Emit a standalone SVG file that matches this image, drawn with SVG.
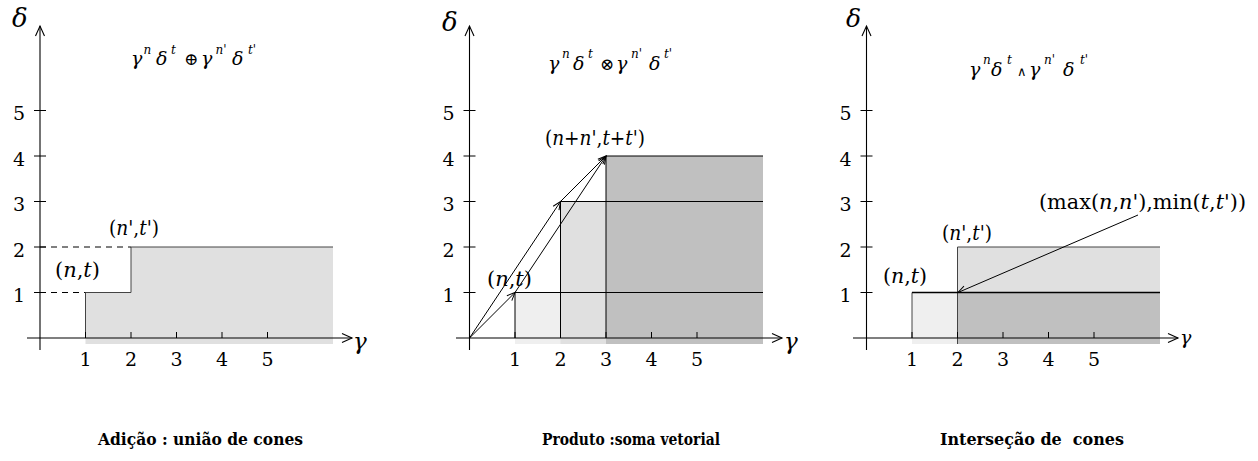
<svg xmlns="http://www.w3.org/2000/svg" width="1258" height="461" viewBox="0 0 1258 461" font-family="'DejaVu Serif', 'Liberation Serif', serif">
<style>
.ax{stroke:#000;stroke-width:1.1;fill:none}
.tk{stroke:#000;stroke-width:1;fill:none}
.ln{stroke:#000;stroke-width:1;fill:none}
.gl{stroke:#444;stroke-width:1;fill:none}
.dash{stroke:#000;stroke-width:1;stroke-dasharray:6,5;fill:none}
.num{font-size:19px;fill:#000;text-anchor:middle}
.lab{font-size:20px;fill:#000}
.it{font-style:italic}
.axl{font-style:italic;fill:#000}
.fm{font-style:italic;font-size:19px;fill:#000}
.sp{font-size:12px}
.op{font-style:normal}
.cap{font-weight:bold;font-size:16px;fill:#000;white-space:pre}
.f1{fill:#efefef}
.f2{fill:#e0e0e0}
.f3{fill:#c0c0c0}
</style>
<defs>
<marker id="ax" viewBox="-12 -6 14 12" refX="0" refY="0" markerWidth="14" markerHeight="12" orient="auto" markerUnits="userSpaceOnUse" style="overflow:visible">
<path d="M-10,-4.5 L0,0 L-10,4.5" fill="none" stroke="#000" stroke-width="1.1"/>
</marker>
<marker id="ar" viewBox="-10 -5 12 10" refX="0" refY="0" markerWidth="12" markerHeight="10" orient="auto" markerUnits="userSpaceOnUse" style="overflow:visible">
<path d="M-8,-3.5 L0,0 L-8,3.5" fill="none" stroke="#000" stroke-width="1"/>
</marker>
</defs>

<!-- Panel 1 -->
<g id="panel1">
<path class="f2" d="M85.5,344 V292.5 H131 V247 H333 V344 Z"/>
<path class="gl" d="M85.5,338 V292.5 H131 V247 H333"/>
<path class="dash" d="M40,292.5 H85.5 M40,247 H131"/>
<line class="ax" x1="40" y1="350" x2="40" y2="26" marker-end="url(#ax)"/>
<line class="ax" x1="27" y1="338" x2="352" y2="338" marker-end="url(#ax)"/>
<path class="tk" d="M34,292.5H46 M34,247H46 M34,201.5H46 M34,156H46 M34,110.5H46 M85.5,332V338 M131,332V338 M176.5,332V338 M222,332V338 M267.5,332V338"/>
<text class="num" x="19" y="302">1</text>
<text class="num" x="19" y="256.5">2</text>
<text class="num" x="19" y="211">3</text>
<text class="num" x="19" y="165.5">4</text>
<text class="num" x="19" y="120">5</text>
<text class="num" x="85.5" y="366">1</text>
<text class="num" x="131" y="366">2</text>
<text class="num" x="176.5" y="366">3</text>
<text class="num" x="222" y="366">4</text>
<text class="num" x="267.5" y="366">5</text>
<text class="axl" x="12" y="27" font-size="26">δ</text>
<text class="axl" x="353" y="349" font-size="23">γ</text>
<text class="fm"><tspan x="131" y="65">γ</tspan><tspan class="sp" x="143.5" y="54">n</tspan><tspan x="156" y="65">δ</tspan><tspan class="sp" x="171" y="54">t</tspan><tspan class="op" x="184" y="65" font-size="17">⊕</tspan><tspan x="201" y="65">γ</tspan><tspan class="sp" x="215.5" y="54">n'</tspan><tspan x="232" y="65">δ</tspan><tspan class="sp" x="248" y="54">t'</tspan></text>
<text class="lab" x="55" y="277" textLength="45" lengthAdjust="spacingAndGlyphs">(<tspan class="it">n</tspan>,<tspan class="it">t</tspan>)</text>
<text class="lab" x="109" y="235" textLength="50" lengthAdjust="spacingAndGlyphs">(<tspan class="it">n</tspan>',<tspan class="it">t</tspan>')</text>
<text class="cap" x="98" y="445" textLength="205" lengthAdjust="spacingAndGlyphs">Adição : união de cones</text>
</g>

<!-- Panel 2 -->
<g id="panel2">
<rect class="f1" x="515" y="292.5" width="248" height="51.5"/>
<rect class="f2" x="560.5" y="201.5" width="202.5" height="142.5"/>
<rect class="f3" x="606" y="156" width="157" height="188"/>
<path class="ln" d="M515,338 V292.5 H763 M560.5,338 V201.5 H763 M606,338 V156 H763"/>
<line class="ax" x1="469.5" y1="350" x2="469.5" y2="26" marker-end="url(#ax)"/>
<line class="ax" x1="456" y1="338" x2="782" y2="338" marker-end="url(#ax)"/>
<path class="tk" d="M463.5,292.5H475.5 M463.5,247H475.5 M463.5,201.5H475.5 M463.5,156H475.5 M463.5,110.5H475.5 M515,332V338 M560.5,332V338 M606,332V338 M651.5,332V338 M697,332V338"/>
<text class="num" x="448.5" y="302">1</text>
<text class="num" x="448.5" y="256.5">2</text>
<text class="num" x="448.5" y="211">3</text>
<text class="num" x="448.5" y="165.5">4</text>
<text class="num" x="448.5" y="120">5</text>
<text class="num" x="515" y="366">1</text>
<text class="num" x="560.5" y="366">2</text>
<text class="num" x="606" y="366">3</text>
<text class="num" x="651.5" y="366">4</text>
<text class="num" x="697" y="366">5</text>
<text class="axl" x="442" y="31" font-size="26">δ</text>
<text class="axl" x="784" y="349" font-size="23">γ</text>
<text class="fm"><tspan x="548" y="70">γ</tspan><tspan class="sp" x="562" y="58">n</tspan><tspan x="573" y="70">δ</tspan><tspan class="sp" x="588" y="58">t</tspan><tspan class="op" x="600" y="70" font-size="17">⊗</tspan><tspan x="616" y="70">γ</tspan><tspan class="sp" x="631" y="58">n'</tspan><tspan x="649" y="70">δ</tspan><tspan class="sp" x="664" y="58">t'</tspan></text>
<text class="lab" x="487" y="286" textLength="45" lengthAdjust="spacingAndGlyphs">(<tspan class="it">n</tspan>,<tspan class="it">t</tspan>)</text>
<text class="lab" x="545" y="145" textLength="100" lengthAdjust="spacingAndGlyphs">(<tspan class="it">n</tspan>+<tspan class="it">n</tspan>',<tspan class="it">t</tspan>+<tspan class="it">t</tspan>')</text>
<text class="cap" x="542" y="445" textLength="178" lengthAdjust="spacingAndGlyphs">Produto :soma vetorial</text>
</g>

<!-- Panel 3 -->
<g id="panel3">
<rect class="f1" x="912" y="292.5" width="45.5" height="51.5"/>
<rect class="f2" x="957.5" y="247" width="202.5" height="45.5"/>
<rect class="f3" x="957.5" y="292.5" width="202.5" height="51.5"/>
<path class="gl" d="M912,338 V292.5 M957.5,344 V247 H1160"/>
<path d="M912,292.5 H1160" stroke="#000" stroke-width="1.5" fill="none"/>
<line class="ax" x1="866.5" y1="350" x2="866.5" y2="26" marker-end="url(#ax)"/>
<line class="ax" x1="853" y1="338" x2="1178" y2="338" marker-end="url(#ax)"/>
<path class="tk" d="M860.5,292.5H872.5 M860.5,247H872.5 M860.5,201.5H872.5 M860.5,156H872.5 M860.5,110.5H872.5 M912,332V338 M957.5,332V338 M1003,332V338 M1048.5,332V338 M1094,332V338"/>
<text class="num" x="845.5" y="302">1</text>
<text class="num" x="845.5" y="256.5">2</text>
<text class="num" x="845.5" y="211">3</text>
<text class="num" x="845.5" y="165.5">4</text>
<text class="num" x="845.5" y="120">5</text>
<text class="num" x="912" y="366">1</text>
<text class="num" x="957.5" y="366">2</text>
<text class="num" x="1003" y="366">3</text>
<text class="num" x="1048.5" y="366">4</text>
<text class="num" x="1094" y="366">5</text>
<text class="axl" x="846" y="27" font-size="25">δ</text>
<text class="axl" x="1180" y="344" font-size="19">γ</text>
<text class="fm"><tspan x="969" y="76">γ</tspan><tspan class="sp" x="983" y="64">n</tspan><tspan x="991" y="76">δ</tspan><tspan class="sp" x="1007" y="64">t</tspan><tspan class="op" x="1017" y="76" font-size="13">∧</tspan><tspan x="1029" y="76">γ</tspan><tspan class="sp" x="1044" y="64">n'</tspan><tspan x="1063" y="76">δ</tspan><tspan class="sp" x="1080" y="64">t'</tspan></text>
<text class="lab" x="883" y="283" textLength="44" lengthAdjust="spacingAndGlyphs">(<tspan class="it">n</tspan>,<tspan class="it">t</tspan>)</text>
<text class="lab" x="942" y="240" textLength="50" lengthAdjust="spacingAndGlyphs">(<tspan class="it">n</tspan>',<tspan class="it">t</tspan>')</text>
<text class="lab" x="1039" y="209" textLength="207" lengthAdjust="spacingAndGlyphs">(max(<tspan class="it">n</tspan>,<tspan class="it">n</tspan>'),min(<tspan class="it">t</tspan>,<tspan class="it">t</tspan>'))</text>
<text class="cap" x="940" y="445" textLength="184" lengthAdjust="spacingAndGlyphs">Interseção de  cones</text>
</g>

<!-- Connectors -->
<g id="connectors">
<line class="ln" x1="469.5" y1="338" x2="515" y2="292.5" marker-end="url(#ar)"/>
<line class="ln" x1="469.5" y1="338" x2="560.5" y2="201.5" marker-end="url(#ar)"/>
<line class="ln" x1="515" y1="292.5" x2="606" y2="156" marker-end="url(#ar)"/>
<line class="ln" x1="560.5" y1="201.5" x2="606" y2="156" marker-end="url(#ar)"/>
<line class="ln" x1="1138" y1="215" x2="958" y2="292.5" marker-end="url(#ar)"/>
</g>
</svg>
